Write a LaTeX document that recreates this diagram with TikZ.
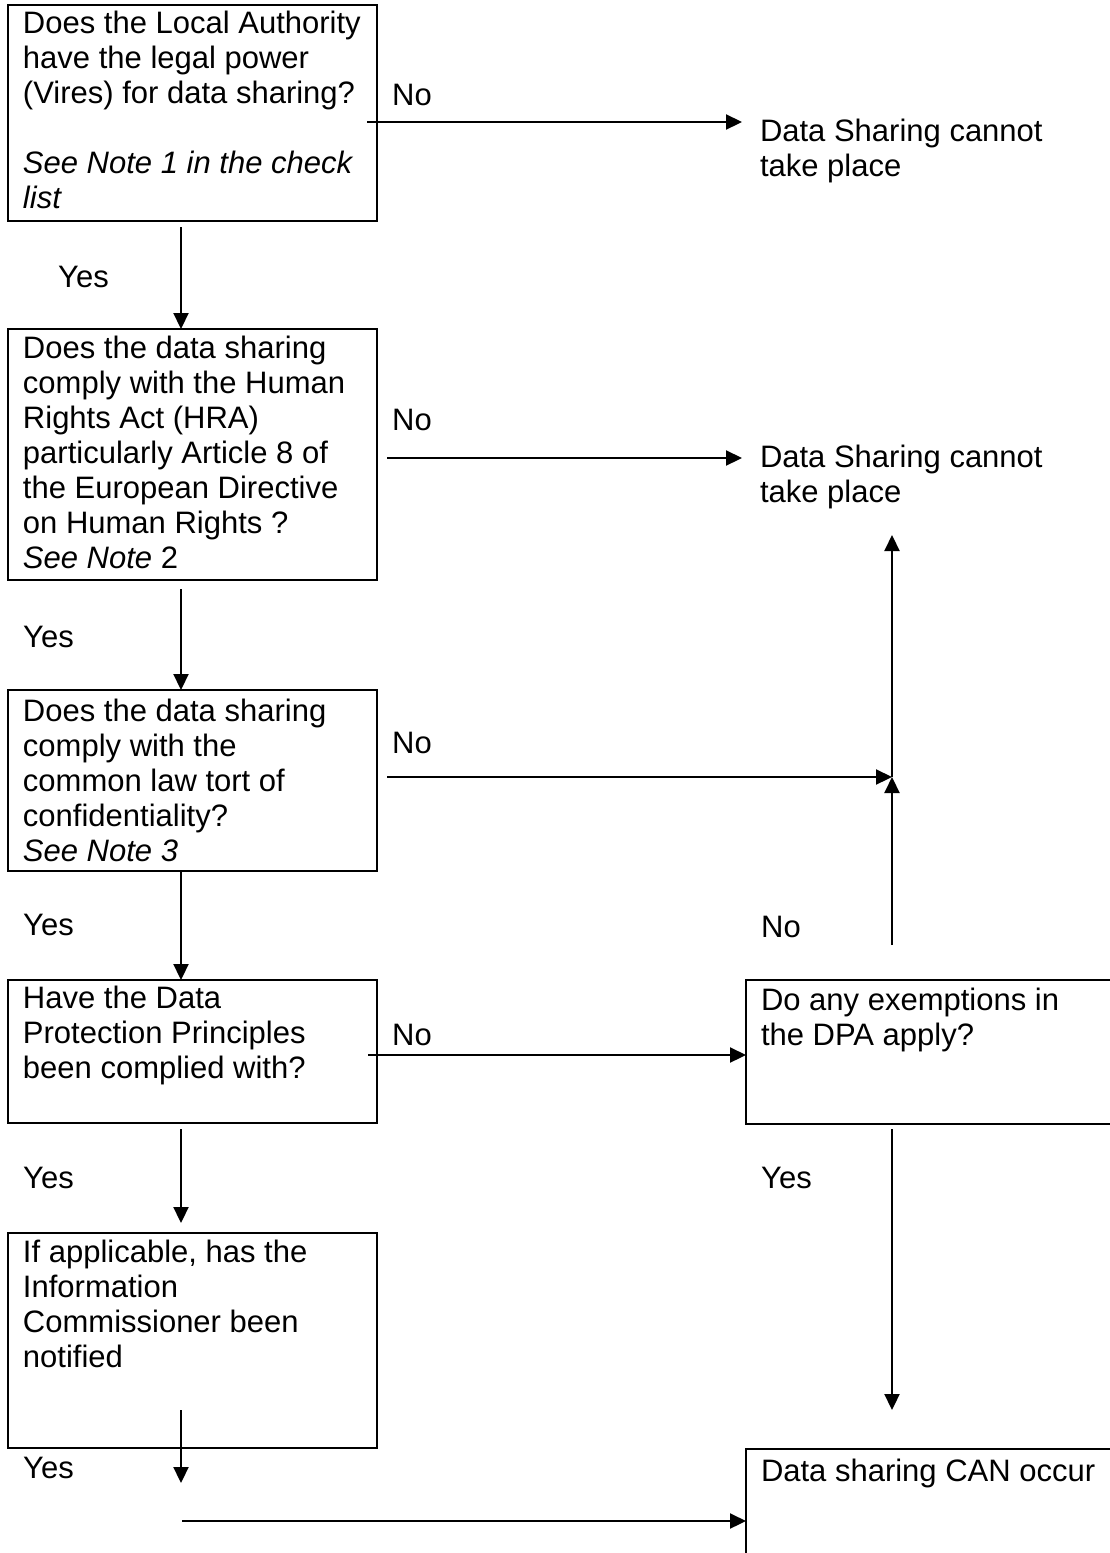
\documentclass[tikz,border=0pt]{standalone}
\usepackage{fontspec}
\setmainfont{Liberation Sans}
\usetikzlibrary{arrows.meta,positioning}
\tikzset{>={Triangle[length=16pt,width=15pt]}}

\begin{document}
\begin{tikzpicture}[x=1pt,y=-1pt,
    frame/.style={draw,line width=2.8pt,anchor=north west,inner sep=0pt,outer sep=0pt},
    txt/.style={anchor=north west,inner sep=0pt,outer sep=0pt,align=left,font=\fontsize{31pt}{35pt}\selectfont},
    lbl/.style={anchor=base west,inner sep=0pt,font=\fontsize{31pt}{35pt}\selectfont},
    arr/.style={line width=2.2pt,->}]

    \useasboundingbox (0,0) rectangle (1109,1553);

    % question boxes
    \node[frame,minimum width=369pt,minimum height=216pt] (q1) at (8,5) {};
    \node[frame,minimum width=369pt,minimum height=251pt] (q2) at (8,329) {};
    \node[frame,minimum width=369pt,minimum height=181pt] (q3) at (8,690) {};
    \node[frame,minimum width=369pt,minimum height=143pt] (q4) at (8,980) {};
    \node[frame,minimum width=369pt,minimum height=215pt] (q5) at (8,1233) {};
    \node[frame,minimum width=366pt,minimum height=144pt] (exempt) at (746,980) {};
    \node[frame,minimum width=366pt,minimum height=120pt] (canocc) at (746,1449) {};

    \node[txt,below right=3.5pt and 15pt of q1.north west] (q1t) {\strut Does the Local Authority\\have the legal power\\(Vires) for data sharing?\\[35pt]\textit{See Note 1 in the check}\\\textit{list}};
    \node[txt,below right=4.5pt and 15pt of q2.north west] (q2t) {\strut Does the data sharing\\comply with the Human\\Rights Act (HRA)\\particularly Article 8 of\\the European Directive\\on Human Rights ?\\\textit{See Note} 2};
    \node[txt,below right=7pt and 15pt of q3.north west] (q3t) {\strut Does the data sharing\\comply with the\\common law tort of\\confidentiality?\\\textit{See Note 3}};
    \node[txt,below right=3.5pt and 15pt of q4.north west] (q4t) {\strut Have the Data\\Protection Principles\\been complied with?};
    \node[txt,below right=4.5pt and 15pt of q5.north west] (q5t) {\strut If applicable, has the\\Information\\Commissioner been\\notified};
    \node[txt,below right=5.5pt and 15pt of exempt.north west] (exemptt) {\strut Do any exemptions in\\the DPA apply?};
    \node[txt,below right=8pt and 15pt of canocc.north west] (canocct) {\strut Data sharing CAN occur};

    % outcomes
    \node[txt] (stop1) at (760,116.5) {\strut Data Sharing cannot\\take place};
    \node[txt] (stop2) at (760,442.5) {\strut Data Sharing cannot\\take place};

    % yes / no labels
    \node[lbl] (no1) at (392,105) {No};
    \node[lbl] (yes1) at (58,287) {Yes};
    \node[lbl] (no2) at (392,430) {No};
    \node[lbl] (yes2) at (23,647) {Yes};
    \node[lbl] (no3) at (392,753) {No};
    \node[lbl] (yes3) at (23,935) {Yes};
    \node[lbl] (no4) at (392,1045) {No};
    \node[lbl] (yes4) at (23,1188) {Yes};
    \node[lbl] (yes5) at (23,1478) {Yes};
    \node[lbl] (noex) at (761,937) {No};
    \node[lbl] (yesex) at (761,1188) {Yes};

    % connector ends
    \coordinate (y1) at (181,227);
    \coordinate (y2) at (181,589);
    \coordinate (y4) at (181,1129);
    \coordinate (y4e) at (181,1223);
    \coordinate (y5) at (181,1410);
    \coordinate (y5e) at (181,1483);
    \coordinate (n1) at (367,122);
    \coordinate (n1e) at (742,122);
    \coordinate (n2) at (387,458);
    \coordinate (n2e) at (742,458);
    \coordinate (n3) at (387,777);
    \coordinate (join) at (892,777);
    \coordinate (up) at (892,945);
    \coordinate (upe) at (892,535);
    \coordinate (n4) at (368,1055);
    \coordinate (ex) at (892,1129);
    \coordinate (exe) at (892,1410);
    \coordinate (fin) at (182,1521);

    \draw[arr] (n1) -- (n1e);
    \draw[arr] (y1) -- (y1 |- q2.north);
    \draw[arr] (n2) -- (n2e);
    \draw[arr] (y2) -- (y2 |- q3.north);
    \draw[arr] (n3) -- (join);
    \draw[arr] (up) -- (join);
    \draw[arr] (join) -- (upe);
    \draw[arr] (q3.south -| y1) -- (q4.north -| y1);
    \draw[arr] (n4) -- (n4 -| exempt.west);
    \draw[arr] (y4) -- (y4e);
    \draw[arr] (ex) -- (exe);
    \draw[arr] (y5) -- (y5e);
    \draw[arr] (fin) -- (fin -| canocc.west);

\end{tikzpicture}
\end{document}
